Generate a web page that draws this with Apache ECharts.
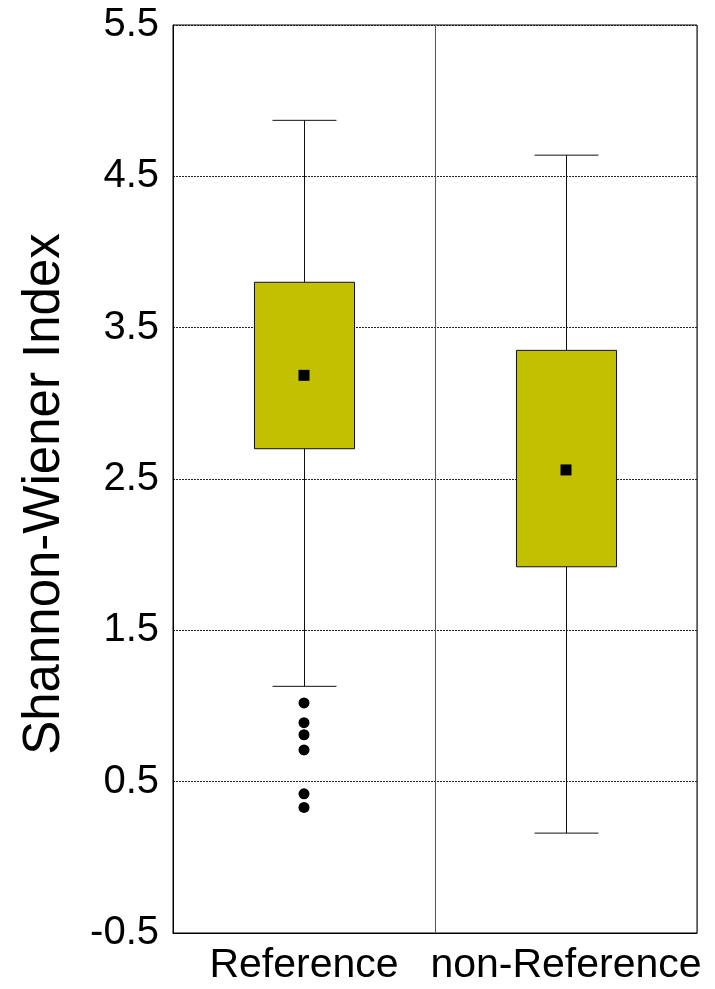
<!DOCTYPE html>
<html>
<head>
<meta charset="utf-8">
<script src="https://cdn.jsdelivr.net/npm/echarts@6/dist/echarts.min.js"></script>
<style>
  html, body { margin: 0; padding: 0; background: #fff; }
  #chart { width: 715px; height: 989px; }
</style>
</head>
<body>
<div id="chart"></div>
<script>
// Site groups on the horizontal axis
const categories = ['Reference', 'non-Reference'];
// Box-and-whisker summary of the Shannon-Wiener index per group
const whiskerLow = [1.13, 0.16];
const boxLow = [2.70, 1.92];
const boxHigh = [3.80, 3.35];
const whiskerHigh = [4.87, 4.64];
const means = [3.185, 2.56];
// Outlying sites: [group index, value]
const outliers = [[0, 1.02], [0, 0.89], [0, 0.81], [0, 0.71], [0, 0.42], [0, 0.33]];
// Value axis range and labelled ticks
const yMin = -0.5, yMax = 5.5, yStep = 0.5;
const yTickLabels = ['-0.5', '0.5', '1.5', '2.5', '3.5', '4.5', '5.5'];

const boxData = categories.map((c, i) => [i, whiskerLow[i], boxLow[i], boxHigh[i], whiskerHigh[i]]);
const meanData = categories.map((c, i) => [i, means[i]]);

const FONT = 'Liberation Sans, Arial, sans-serif';

function renderBox(params, api) {
  const i = api.value(0);
  const band = api.size([1, 0])[0];
  const boxW = band * 0.382;
  const capW = band * 0.244;
  const pLow = api.coord([i, api.value(1)]);
  const pQ1 = api.coord([i, api.value(2)]);
  const pQ3 = api.coord([i, api.value(3)]);
  const pHigh = api.coord([i, api.value(4)]);
  const x = Math.round(pLow[0]) + 0.5;
  const line = { stroke: '#111', lineWidth: 1 };
  return {
    type: 'group',
    children: [
      { type: 'line', shape: { x1: x, y1: pHigh[1], x2: x, y2: pLow[1] }, style: line },
      { type: 'line', shape: { x1: x - capW / 2, y1: pHigh[1], x2: x + capW / 2, y2: pHigh[1] }, style: line },
      { type: 'line', shape: { x1: x - capW / 2, y1: pLow[1], x2: x + capW / 2, y2: pLow[1] }, style: line },
      {
        type: 'rect',
        shape: { x: x - boxW / 2, y: pQ3[1], width: boxW, height: pQ1[1] - pQ3[1] },
        style: { fill: '#c2c000', stroke: '#111', lineWidth: 1 }
      }
    ]
  };
}

const chart = echarts.init(document.getElementById('chart'), null, { renderer: 'canvas' });
chart.setOption({
  animation: false,
  backgroundColor: '#fff',
  grid: {
    left: 173, right: 18, top: 25, bottom: 56,
    show: true, borderColor: '#000', borderWidth: 1, backgroundColor: 'transparent'
  },
  xAxis: {
    type: 'category',
    data: categories,
    boundaryGap: true,
    axisLine: { show: true, onZero: false, lineStyle: { color: '#000', width: 1 } },
    axisTick: { show: false },
    splitLine: { show: true, interval: 0, lineStyle: { color: '#555', width: 1 } },
    axisLabel: {
      color: '#000', fontSize: 41, fontFamily: FONT, margin: 12,
      interval: 0, hideOverlap: false
    }
  },
  yAxis: {
    type: 'value',
    min: yMin, max: yMax, interval: yStep,
    name: 'Shannon-Wiener Index',
    nameLocation: 'middle',
    nameGap: 103,
    nameRotate: 90,
    nameTextStyle: { color: '#000', fontSize: 51, fontFamily: FONT, padding: [0, 30, 0, 0] },
    axisLine: { show: true, lineStyle: { color: '#000', width: 1 } },
    axisTick: { show: false },
    axisLabel: {
      color: '#000', fontSize: 40, fontFamily: FONT, margin: 14,
      formatter: v => {
        const s = v.toFixed(1);
        return yTickLabels.indexOf(s) >= 0 ? s : '';
      }
    },
    splitLine: {
      show: true,
      lineStyle: { color: ['#222', 'rgba(0,0,0,0)'], width: 1, type: [2, 1] }
    }
  },
  series: [
    {
      type: 'custom',
      renderItem: renderBox,
      data: boxData,
      encode: { x: 0, y: [1, 2, 3, 4] },
      z: 3
    },
    {
      type: 'scatter',
      data: meanData,
      symbol: 'rect',
      symbolSize: 11,
      itemStyle: { color: '#000', opacity: 1 },
      z: 5
    },
    {
      type: 'scatter',
      data: outliers,
      symbol: 'circle',
      symbolSize: 11,
      itemStyle: { color: '#000', opacity: 1 },
      z: 5
    }
  ]
});
</script>
</body>
</html>
